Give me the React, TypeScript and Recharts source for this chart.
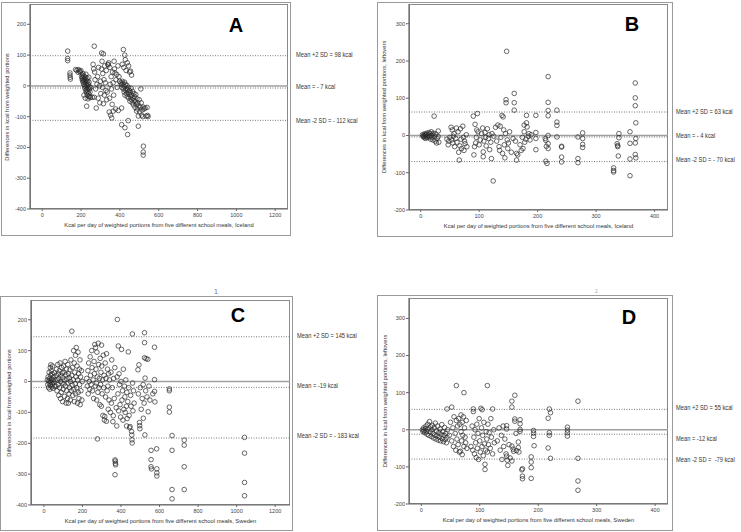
import React from "react";
import { ScatterChart, Scatter, XAxis, YAxis, ReferenceLine } from "recharts";

// differences (kcal) vs weighed kcal per day, one array per panel
const icelandServed: [number, number][] = [
  [131, 113], [131, 89], [131, 82], [143, 42], [143, 35], [144, 28], [145, 22],
  [172, 53], [178, 50], [186, 53], [192, 48], [199, 50], [196, 45], [185, 44],
  [203, 30], [205, 24], [207, 18], [208, 35], [210, 28], [210, 12], [212, 20], [214, 5], [215, 32], [216, 15],
  [218, 0], [219, 22], [220, -8], [221, 10], [222, 28], [224, -15], [225, 2], [226, 18], [227, -5], [228, -22],
  [229, 8], [230, -12], [231, 25], [232, -30], [233, 0], [234, 15], [235, -18], [236, -8], [238, 5], [239, -25],
  [240, -35], [241, 12], [243, -10], [244, -3], [246, -20], [248, -38], [250, -5], [229, -66], [215, -30],
  [222, -40], [236, -42], [246, -34], [258, -37], [268, -37], [210, 40], [225, 38], [240, 28],
  [268, 129], [262, 70], [265, 55], [270, 45], [272, 20], [275, -10], [278, -72], [282, 5], [285, 30],
  [288, -40], [290, 60], [295, 0], [297, -55], [300, 15], [302, -25], [305, 55], [306, 107], [308, 80],
  [310, -5], [312, 40], [315, 104], [315, -58], [318, 20], [320, -30], [322, 65], [325, 10], [328, -15],
  [330, 50], [332, -45], [335, -20], [338, 70], [340, 68], [342, 75], [345, -85], [347, -40], [348, 60],
  [350, 5], [352, -95], [355, 30], [357, -10], [358, -104], [360, -60], [362, 45], [365, 10], [366, -82],
  [368, -30], [370, 80], [372, 55], [375, 42], [378, -75], [380, 20], [384, 37], [386, -5], [390, 65],
  [392, -80], [395, 30], [398, 15],
  [409, -72], [409, -126], [412, 70], [418, 118], [420, 60], [425, 100], [428, 85], [432, 50], [438, 75],
  [440, -158], [443, -113], [426, -136], [445, 65], [450, 45], [455, 48], [460, 35],
  [405, 10], [408, 5], [410, -5], [412, 15], [415, 8], [418, -10], [420, 0], [422, -20], [424, 12],
  [426, -30], [428, 5], [430, -15], [432, -8], [434, -25], [436, 2], [438, -35], [440, -12], [442, -20],
  [444, -5], [446, -40], [448, -28], [450, -15], [452, -50], [454, -22], [456, -35], [458, -8], [460, -45],
  [462, -30], [464, -55], [466, -18], [468, -40], [470, -62], [472, -25], [474, -48], [476, -35], [478, -70],
  [480, -52], [482, -28], [485, -60], [486, -82], [488, -42], [490, -75], [492, -55], [495, -98], [495, -131],
  [498, -65], [500, -45], [502, -85], [505, -70], [508, -10], [510, -55], [512, -95], [515, -78], [518, -100],
  [520, -69], [521, -196], [520, -215], [520, -225], [525, -75], [530, -72], [535, -98], [540, -70],
  [543, -96], [545, -100],
];

const icelandLeftovers: [number, number][] = [
  [3, 2], [4, -3], [5, 0], [6, -5], [6, 4], [7, -2], [8, 1], [8, -8], [9, 3], [10, -4], [10, 6], [11, -1],
  [12, -6], [13, 2], [14, 8], [15, -3], [16, 5], [17, -10], [18, 0], [18, 10], [19, -5], [20, 3], [21, -12],
  [22, 6], [23, 52], [24, -2], [25, -15], [26, 4], [27, -20], [28, -8], [30, 12], [30, -3], [31, -18],
  [45, -10], [47, -25], [48, -15], [50, -5], [52, 22], [53, -12], [54, 15], [55, -20], [56, -2], [57, 5],
  [58, -30], [60, -8], [61, 20], [62, -18], [64, 10], [65, -45], [66, -66], [67, -28], [68, 18], [69, -10],
  [70, -35], [72, 25], [73, -5], [74, -40], [75, -15], [76, -22], [78, 2], [79, -30],
  [90, 52], [91, -52], [92, -30], [93, 30], [94, -20], [95, -5], [96, 15], [97, 59], [98, 10], [100, -25],
  [102, -12], [104, 5], [106, 20], [107, -44], [107, -57], [108, -15], [110, 8], [111, -5], [112, -28],
  [114, 18], [116, -8], [117, 2], [118, -38], [120, -18], [121, -62], [122, 5], [124, -122], [125, -2],
  [128, 22], [130, -15], [132, 28], [134, -30], [135, -40], [136, 25], [137, -5], [139, 54], [140, -48],
  [141, 50], [142, 15], [143, -25], [144, -60], [145, 5], [146, 96], [146, 88], [147, 226], [148, -12],
  [149, -35], [150, -20], [152, 10], [155, -45], [158, -8], [160, 113], [160, 88], [160, 68], [162, -15],
  [164, -48], [164, -66], [166, -52], [170, -25], [172, -40], [174, -5], [175, -35], [177, 28], [177, 10],
  [178, -18], [180, -10], [181, 54], [181, 34], [182, 23], [184, -2], [185, 5], [187, -12], [189, 2],
  [197, 54], [197, 8], [197, -8], [197, -38], [213, -8], [214, -13], [215, -29], [214, -69], [216, -75],
  [218, 158], [218, 89], [218, 67], [218, 53], [218, 0], [218, -22], [218, -35], [233, 68], [233, 36],
  [233, 27], [233, -4], [241, -29], [241, -31], [241, -58], [241, -71],
  [269, -4], [269, -62], [269, -73], [277, 7], [277, -8], [277, -24], [277, -32],
  [330, -87], [330, -94], [330, -98], [336, -22], [337, -27], [337, -30], [338, -55], [339, 5], [339, -6],
  [358, 10], [358, -21], [358, -63], [358, -108], [367, 141], [367, 101], [367, 80], [368, 34], [368, -8],
  [367, -20], [367, -51], [368, -60],
];

const swedenServed: [number, number][] = [
  [18, 5], [20, -10], [22, 15], [24, -20], [25, 2], [27, 30], [28, -5], [30, 10], [31, -25], [32, 2],
  [33, 45], [34, -12], [35, 20], [36, 54], [37, -3], [38, 35], [40, 8], [41, -18], [42, 25], [44, -8],
  [45, 50], [46, 5], [48, -22], [50, 15], [52, -2], [54, 28], [55, -15], [58, 5],
  [62, -15], [64, 20], [66, 40], [68, -30], [70, 5], [72, 55], [74, -10], [75, 25], [77, -45], [78, 10],
  [80, 35], [82, -20], [84, 60], [85, 0], [86, -55], [88, 18], [90, -35], [92, 45], [94, -5], [95, 28],
  [97, -65], [98, 12], [100, -25], [102, 50], [104, -8], [105, 30], [107, -48], [108, 5], [110, 65],
  [112, -15], [114, 22], [115, -70], [117, 40], [118, -30], [120, 8], [122, -55], [124, 55], [125, -5],
  [127, -70], [128, 25], [130, -40], [132, 12], [134, -20], [135, 38], [137, -60], [138, 0], [140, 70],
  [142, -30], [144, 20], [145, 163], [147, -12], [148, 45], [150, -45], [152, 5], [154, 100], [155, -25],
  [157, 60], [158, -65], [160, 30], [162, -8], [164, 85], [165, -40], [167, 15], [168, 110], [170, -20],
  [172, 50], [174, -70], [175, 5], [177, 95], [178, -35], [180, 25], [182, -55], [184, 40], [185, -10],
  [187, 70], [188, -75], [190, 15], [192, -30], [195, 35], [197, -60], [199, 0],
  [222, 10], [225, -15], [228, 35], [230, -40], [232, 60], [235, 0], [238, -25], [240, 80], [242, 20],
  [245, -10], [248, 100], [250, 45], [252, -30], [255, 5], [258, -55], [260, 65], [262, 25], [264, 120],
  [266, -15], [268, 110], [270, 40], [272, -5], [274, -60], [275, 95], [277, 15], [278, -186], [280, -35],
  [282, 124], [284, 55], [286, -20], [288, 10], [290, -75], [292, 75], [294, -10], [296, 30], [298, -80],
  [299, 118], [300, 50], [302, -40], [304, 5], [306, -110], [308, 85], [310, -20], [312, 20], [314, -125],
  [316, -113], [318, 60], [320, -50], [322, 10], [324, -129], [325, 90], [328, -30], [330, 40], [332, -15],
  [334, -90], [336, 25], [338, -60], [340, 5],
  [345, -100], [348, 30], [350, -70], [352, 70], [355, -20], [358, -130], [360, -111], [362, 10],
  [365, -55], [368, 45], [369, -254], [370, -258], [371, -265], [372, -270], [369, -302], [375, -85],
  [378, -144], [380, 15], [381, 201], [384, -40], [386, 115], [388, -95], [390, 25], [392, -10], [395, -75],
  [398, -115], [400, 0], [403, 104], [405, -60], [408, -30], [410, -125], [412, 40], [415, -90], [418, -15],
  [420, -50], [422, -100], [425, 5], [428, -80], [429, -144], [430, -35], [432, -120], [435, -65], [438, 96],
  [440, -20], [442, -110], [445, -150], [447, -146], [450, -45], [452, -80], [455, -162], [456, -173],
  [457, -189], [458, -199], [459, 154], [460, -5], [462, -95], [465, -30], [468, -70],
  [488, 38], [490, -40], [493, 54], [496, -133], [497, -143], [498, -153], [500, -20], [505, -90],
  [510, -55], [515, -10], [516, -119], [520, -70], [522, 158], [522, 126], [522, 77], [524, -173], [525, 11],
  [528, -30], [530, 74], [535, -50], [539, 72], [541, -98], [545, -15], [550, -60], [556, -223], [556, -253],
  [556, -276], [558, -283], [565, -40], [574, 111], [574, 6], [574, -32], [576, -66], [585, -218],
  [586, -283], [586, -296], [586, -306],
  [651, -24], [651, -30], [651, -83], [651, -99], [665, -175], [665, -223], [665, -350], [665, -380],
  [728, -190], [728, -206], [728, -276], [728, -350], [1041, -181], [1041, -232], [1041, -327], [1041, -370],
];

const swedenLeftovers: [number, number][] = [
  [2, 0], [3, -5], [4, 5], [5, -2], [6, -8], [7, 3], [8, 10], [9, -4], [10, -12], [11, 15], [12, 2],
  [13, -15], [14, 22], [15, -6], [16, 8], [17, -18], [18, 0], [19, 12], [20, -10], [21, -22], [22, 5],
  [23, -14], [24, 18], [25, -25], [26, -3], [27, -16], [28, 10], [29, -28], [30, -8], [31, -20], [32, 2],
  [33, -30], [34, -12], [35, 14], [36, -24], [37, -5], [38, -32], [39, -15], [40, 6], [41, -26], [42, -10],
  [43, -35], [44, 56], [44, -20], [45, 0],
  [48, -15], [50, 20], [52, 61], [52, -30], [54, 5], [55, -45], [56, 35], [58, -10], [59, -55], [60, 119],
  [60, 25], [61, -25], [62, 10], [63, -40], [64, 30], [65, -60], [66, 15], [67, -58], [68, -5], [68, 40],
  [69, -30], [70, -67], [70, 20], [71, -15], [72, 35], [73, 100], [73, -45], [74, 5], [75, -20], [76, -35],
  [77, 25], [78, -50],
  [85, -45], [87, 10], [88, -55], [89, 56], [89, 49], [90, -20], [91, -65], [92, 0], [93, -35], [94, -75],
  [95, 15], [96, -50], [97, -10], [98, -80], [99, 30], [100, -30], [101, -60], [102, 58], [103, 5],
  [104, 54], [104, -45], [105, -15], [106, -70], [107, 20], [108, -38], [109, -93], [109, -107], [110, -55],
  [111, -5], [112, -25], [113, 119], [113, -60], [114, 15], [115, -40], [116, -8], [118, -50], [119, 30],
  [120, -20], [122, 56], [122, -65], [124, 0], [125, -35],
  [130, -30], [133, 5], [135, -55], [137, -15], [138, -80], [140, 10], [141, -45], [143, -25], [145, -65],
  [146, 11], [146, 2], [146, -71], [147, -82], [148, -96], [150, -40], [152, -76], [155, 77], [155, 61],
  [155, -44], [155, -84], [157, -52], [158, -58], [160, 93], [160, 29], [160, 23], [162, -10], [163, -56],
  [166, -33], [166, -48], [167, -60], [169, 27], [169, 16], [169, 1], [169, -4], [172, -108], [173, -105],
  [173, -125], [173, -132],
  [188, -73], [188, -87], [188, -102], [188, -131], [192, -2], [192, -9], [192, -18], [193, -43], [217, 31],
  [219, 56], [219, -8], [219, -15], [217, -49], [221, 46], [221, -77], [250, 7], [250, -1], [250, -8],
  [250, -17], [268, 77], [268, -77], [268, -138], [268, -163],
];

// +2 SD, mean, -2 SD
const limitsA = [98, -7, -112];
const limitsB = [63, -4, -70];
const limitsC = [145, -19, -183];
const limitsD = [55, -12, -79];

const labelsA = ["Mean +2 SD = 98 kcal", "Mean = - 7 kcal", "Mean -2 SD = - 112 kcal"];
const labelsB = ["Mean +2 SD = 63 kcal", "Mean = - 4 kcal", "Mean -2 SD = - 70 kcal"];
const labelsC = ["Mean +2 SD = 145 kcal", "Mean = -19 kcal", "Mean -2 SD = - 183 kcal"];
const labelsD = ["Mean +2 SD = 55 kcal", "Mean = -12 kcal", "Mean -2 SD =  -79 kcal"];

const ticksWide = [0, 200, 400, 600, 800, 1000, 1200];
const ticksNarrow = [0, 100, 200, 300, 400];
const ticksServedY = [-400, -300, -200, -100, 0, 100, 200];
const ticksLeftY = [-200, -100, 0, 100, 200, 300];

const FONT = "'Liberation Sans', Arial, sans-serif";

const Circle = (props: any) => (
  <circle cx={props.cx} cy={props.cy} r={2.3} fill="none" stroke="#2a2a2a" strokeWidth={0.7} />
);

type PanelProps = {
  frame: number[];
  plot: number[];
  points: [number, number][];
  xDomain: number[];
  yDomain: number[];
  xTicks: number[];
  yTicks: number[];
  limits: number[];
  labels: string[];
  labelX: number;
  labelY: number[];
  letter: string;
  letterPos: number[];
  xTitle: string;
  yTitle: string;
  yTitleX: number;
};

function Panel(p: PanelProps) {
  const [fl, ft, fr, fb] = p.frame;
  const [pl, pt, pr, pb] = p.plot;
  const w = fr - fl;
  const h = fb - ft;
  const data = p.points.map(([x, y]) => ({ x, y }));
  const dotted = { stroke: "#555", strokeWidth: 0.8, strokeDasharray: "1 1.5" };
  const tick = { fontSize: 5.5, fill: "#444", fontFamily: FONT };
  return (
    <>
      <div style={{ position: "absolute", left: fl, top: ft, width: w, height: h, border: "1.5px solid #9a9a9a", boxSizing: "border-box" }} />
      <div style={{ position: "absolute", left: pl, top: pt, width: pr - pl, height: pb - pt, border: "1px solid #8a8a8a", boxSizing: "border-box" }} />
      <div style={{ position: "absolute", left: fl, top: ft }}>
        <ScatterChart width={w} height={h} margin={{ top: pt - ft, right: fr - pr, left: 0, bottom: 0 }}>
          <XAxis
            type="number"
            dataKey="x"
            domain={p.xDomain}
            ticks={p.xTicks}
            allowDataOverflow
            height={fb - pb}
            tick={tick}
            tickSize={2}
            tickMargin={2}
            axisLine={{ stroke: "#666", strokeWidth: 1.2 }}
            tickLine={{ stroke: "#666" }}
          />
          <YAxis
            type="number"
            dataKey="y"
            domain={p.yDomain}
            ticks={p.yTicks}
            allowDataOverflow
            width={pl - fl}
            tick={tick}
            tickSize={3}
            tickMargin={1}
            axisLine={{ stroke: "#666", strokeWidth: 1.2 }}
            tickLine={{ stroke: "#666" }}
          />
          <ReferenceLine y={p.limits[0]} {...dotted} />
          <ReferenceLine y={0} stroke="#a0a0a0" strokeWidth={1.5} />
          <ReferenceLine y={p.limits[1]} {...dotted} />
          <ReferenceLine y={p.limits[2]} {...dotted} />
          <Scatter data={data} shape={Circle} isAnimationActive={false} />
        </ScatterChart>
      </div>
      <div
        style={{
          position: "absolute", left: p.letterPos[0], top: p.letterPos[1], transform: "translate(-50%, -50%)",
          fontFamily: FONT, fontWeight: 700, fontSize: 20, color: "#000", lineHeight: 1,
        }}
      >
        {p.letter}
      </div>
      <div
        style={{
          position: "absolute", left: (pl + pr) / 2, top: pb + 17, transform: "translate(-50%, -50%)",
          fontFamily: FONT, fontSize: 5.8, color: "#333", whiteSpace: "nowrap", lineHeight: 1,
        }}
      >
        {p.xTitle}
      </div>
      <div
        style={{
          position: "absolute", left: p.yTitleX, top: (pt + pb) / 2, transform: "translate(-50%, -50%) rotate(-90deg)",
          fontFamily: FONT, fontSize: 5.8, color: "#333", whiteSpace: "nowrap", lineHeight: 1,
        }}
      >
        {p.yTitle}
      </div>
      {p.labels.map((t, i) => (
        <div
          key={t}
          style={{
            position: "absolute", left: p.labelX, top: p.labelY[i], transform: "translateY(-50%) scaleX(0.88)",
            transformOrigin: "left center",
            fontFamily: FONT, fontSize: 6.5, color: "#333", whiteSpace: "pre", lineHeight: 1,
          }}
        >
          {t}
        </div>
      ))}
    </>
  );
}

export default function App() {
  const titleIs = "Kcal per day of weighted portions from five different school meals, Iceland";
  const titleSe = "Kcal per day of weighted portions from five different school meals, Sweden";
  const yServed = "Differences in kcal from weighted portions";
  const yLeft = "Differences in kcal from weighted portions, leftovers";
  return (
    <div style={{ position: "absolute", left: 0, top: 0, width: 741, height: 532, background: "#fff", overflow: "hidden" }}>
      <Panel
        frame={[1, 2, 291, 236]} plot={[30, 4, 288, 209]} points={icelandServed}
        xDomain={[-63, 1266]} yDomain={[-400, 266]} xTicks={ticksWide} yTicks={ticksServedY}
        limits={limitsA} labels={labelsA} labelX={296} labelY={[55, 87, 121]}
        letter="A" letterPos={[236, 25]} xTitle={titleIs} yTitle={yServed} yTitleX={8}
      />
      <Panel
        frame={[377, 2, 673, 237]} plot={[409, 4, 668, 210]} points={icelandLeftovers}
        xDomain={[-20, 423]} yDomain={[-200, 353]} xTicks={ticksNarrow} yTicks={ticksLeftY}
        limits={limitsB} labels={labelsB} labelX={676} labelY={[112, 136, 160]}
        letter="B" letterPos={[632, 24]} xTitle={titleIs} yTitle={yLeft} yTitleX={385}
      />
      <Panel
        frame={[0, 296, 293, 531]} plot={[31, 300, 290, 505]} points={swedenServed}
        xDomain={[-67, 1277]} yDomain={[-400, 264]} xTicks={ticksWide} yTicks={ticksServedY}
        limits={limitsC} labels={labelsC} labelX={297} labelY={[336, 386, 436]}
        letter="C" letterPos={[238, 315]} xTitle={titleSe} yTitle={yServed} yTitleX={10}
      />
      <Panel
        frame={[377, 295, 673, 531]} plot={[409, 298, 668, 504]} points={swedenLeftovers}
        xDomain={[-21, 422]} yDomain={[-200, 355]} xTicks={ticksNarrow} yTicks={ticksLeftY}
        limits={limitsD} labels={labelsD} labelX={676} labelY={[408, 439, 460]}
        letter="D" letterPos={[629, 317]} xTitle={titleSe} yTitle={yLeft} yTitleX={386}
      />
      <div style={{ position: "absolute", left: 214, top: 288, fontFamily: FONT, fontSize: 7, color: "#6a6aa0", lineHeight: 1 }}>1</div>
      <div style={{ position: "absolute", left: 595, top: 289, fontFamily: FONT, fontSize: 5, color: "#aaa", lineHeight: 1 }}>2</div>
    </div>
  );
}
